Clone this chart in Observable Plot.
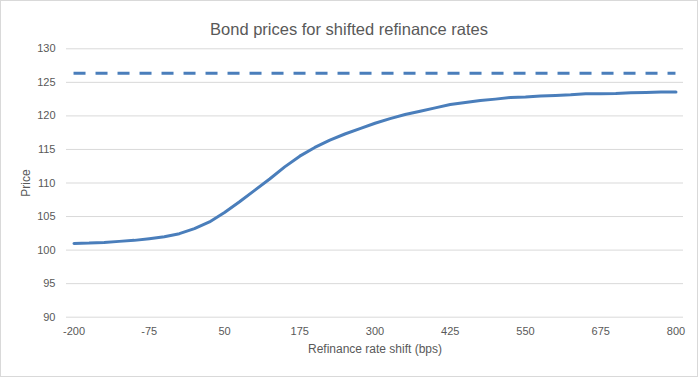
<!DOCTYPE html>
<html>
<head>
<meta charset="utf-8">
<script src="https://cdn.jsdelivr.net/npm/d3@7"></script>
<script src="https://cdn.jsdelivr.net/npm/@observablehq/plot@0.6"></script>
<style>
  html, body { margin: 0; padding: 0; background: #fff; }
  #chart {
    position: relative; width: 698px; height: 377px; overflow: hidden;
    outline: 1px solid #d9d9d9; outline-offset: -1px; background: #fff;
    font-family: "Liberation Sans", Arial, sans-serif;
  }
  #title {
    height: 42px; box-sizing: border-box; padding-top: 20px;
    text-align: center; font-size: 16.5px; color: #595959; line-height: 18px;
  }
  svg { display: block; }
</style>
</head>
<body>
<div id="chart"><div id="title">Bond prices for shifted refinance rates</div></div>
<script>
const shifts = [-200, -175, -150, -125, -100, -75, -50, -25, 0, 25, 50, 75, 100, 125, 150, 175,
  200, 225, 250, 275, 300, 325, 350, 375, 400, 425, 450, 475, 500, 525, 550, 575, 600, 625,
  650, 675, 700, 725, 750, 775, 800];
const prices = [101.0, 101.05, 101.15, 101.3, 101.45, 101.7, 102.0, 102.45, 103.2, 104.2, 105.6,
  107.2, 108.9, 110.6, 112.4, 114.0, 115.3, 116.4, 117.3, 118.1, 118.9, 119.6, 120.2, 120.7,
  121.2, 121.7, 122.0, 122.3, 122.5, 122.75, 122.8, 122.95, 123.05, 123.15, 123.3, 123.3,
  123.35, 123.45, 123.5, 123.55, 123.55];
const capPrice = 126.35;
const xTicks = [-200, -75, 50, 175, 300, 425, 550, 675, 800];
const yTicks = [90, 95, 100, 105, 110, 115, 120, 125, 130];

const data = shifts.map((s, i) => ({shift: s, price: prices[i]}));
const blue = "#4a7ebb";
const fmt = d => String(d);

const plot = Plot.plot({
  width: 698,
  height: 335,
  marginLeft: 66,
  marginRight: 15,
  marginTop: 6.3,
  marginBottom: 60.3,
  style: {fontFamily: "'Liberation Sans', Arial, sans-serif", fontSize: "11px", color: "#595959", background: "transparent"},
  x: {domain: [-212.5, 812.5], ticks: xTicks},
  y: {domain: [90, 130], ticks: yTicks},
  marks: [
    Plot.gridY(yTicks, {stroke: "#d9d9d9", strokeOpacity: 1, strokeWidth: 1}),
    Plot.axisY(yTicks, {tickSize: 0, tickPadding: 11, tickFormat: fmt, fill: "#595959", fontSize: 11, label: null}),
    Plot.axisY({label: "Price", labelAnchor: "center", labelArrow: "none", labelOffset: 45, ticks: [], tickSize: 0, fill: "#595959", fontSize: 12}),
    Plot.axisX(xTicks, {tickSize: 0, tickPadding: 10, tickFormat: fmt, fill: "#595959", fontSize: 11, label: null}),
    Plot.axisX({label: "Refinance rate shift (bps)", labelAnchor: "center", labelArrow: "none", labelOffset: 36, ticks: [], tickSize: 0, fill: "#595959", fontSize: 12}),
    Plot.ruleY([capPrice], {x1: shifts[0], x2: shifts[shifts.length - 1], stroke: blue, strokeWidth: 3, strokeDasharray: "12,10"}),
    Plot.line(data, {x: "shift", y: "price", stroke: blue, strokeWidth: 3, strokeLinejoin: "round", strokeLinecap: "round"})
  ]
});
document.getElementById("chart").appendChild(plot);
</script>
</body>
</html>
